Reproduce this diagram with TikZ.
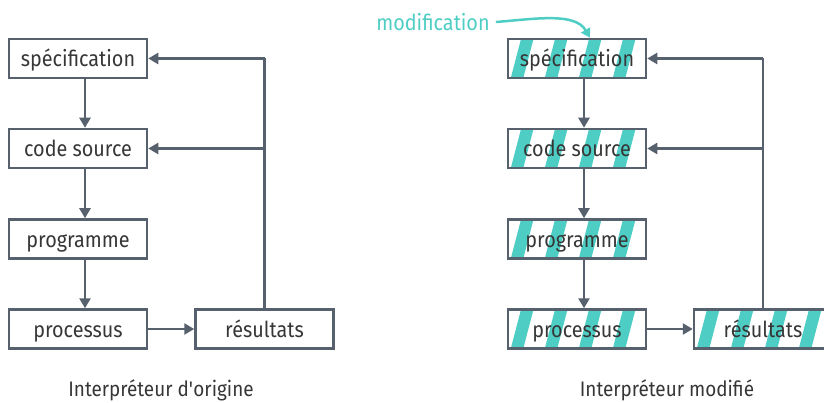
\documentclass[tikz,border=0pt]{standalone}
\usepackage{fontspec}
\setmainfont[FakeStretch=0.9]{Fira Sans}
\usetikzlibrary{arrows.meta,calc}

\definecolor{linegray}{HTML}{56616D}
\definecolor{textgray}{HTML}{363636}
\definecolor{teal}{HTML}{4ECDC4}

\begin{document}
\begin{tikzpicture}[x=1pt,y=-1pt,
  box/.style={draw=linegray, line width=2.5pt, minimum width=138pt,
    minimum height=39pt, inner sep=0pt, text=textgray,
    text height=16.4pt, text depth=0pt, font=\fontsize{22}{24}\selectfont},
  striped/.style={box, path picture={
      \foreach \k in {0,...,4}{
        \fill[teal] ($(path picture bounding box.north west)+(13pt+34pt*\k,0pt)$)
          -- ++(12.5pt,0pt) -- ++(-11pt,-42pt) -- ++(-12.5pt,0pt) -- cycle;
      }}},
  flow/.style={draw=linegray, line width=2.5pt,
    -{Triangle[length=10pt,width=11pt]}},
  caption/.style={text=textgray, font=\fontsize{21}{23}\selectfont}
]
\useasboundingbox (0,0) rectangle (824,403);
\clip (0,0) rectangle (824,403);

% original interpreter
\node[box] (s1) at (78,58.5) {spécification};
\node[box] (c1) at (78,148.5) {code source};
\node[box] (p1) at (78,239) {programme};
\node[box] (q1) at (78,329) {processus};
\node[box] (r1) at (264.5,329) {résultats};
\coordinate (t1) at (264.5,58.5);
\coordinate (m1) at (264.5,148.5);

\draw[flow] ([xshift=7pt]s1.south) -- ([xshift=7pt]c1.north);
\draw[flow] ([xshift=7pt]c1.south) -- ([xshift=7pt]p1.north);
\draw[flow] ([xshift=7pt]p1.south) -- ([xshift=7pt]q1.north);
\draw[flow] (q1.east) -- (r1.west);
\draw[draw=linegray, line width=2.5pt] (r1.north) -- (t1);
\draw[flow] (t1) -- (s1.east);
\draw[flow] (m1) -- (c1.east);

\node[caption] (cap1) at (161,390) {Interpréteur d\textquotesingle origine};

% modified interpreter
\node[striped] (s2) at (577,58.5) {spécification};
\node[striped] (c2) at (577,148.5) {code source};
\node[striped] (p2) at (577,239) {programme};
\node[striped] (q2) at (577,329) {processus};
\node[striped] (r2) at (763,329) {résultats};
\coordinate (t2) at (763,58.5);
\coordinate (m2) at (763,148.5);

\draw[flow] ([xshift=7pt]s2.south) -- ([xshift=7pt]c2.north);
\draw[flow] ([xshift=7pt]c2.south) -- ([xshift=7pt]p2.north);
\draw[flow] ([xshift=7pt]p2.south) -- ([xshift=7pt]q2.north);
\draw[flow] (q2.east) -- (r2.west);
\draw[draw=linegray, line width=2.5pt] (r2.north) -- (t2);
\draw[flow] (t2) -- (s2.east);
\draw[flow] (m2) -- (c2.east);

\node[caption] (cap2) at (667,390) {Interpréteur modifié};

% annotation
\node[text=teal, font=\fontsize{22}{24}\selectfont, inner sep=2pt] (mod) at (433,22) {modification};
\draw[teal, line width=2.5pt, -{Triangle[length=9pt,width=10pt]}]
  ([xshift=4pt]mod.east) .. controls (535,19) and (575,12) .. ([xshift=13pt]s2.north);
\end{tikzpicture}
\end{document}
